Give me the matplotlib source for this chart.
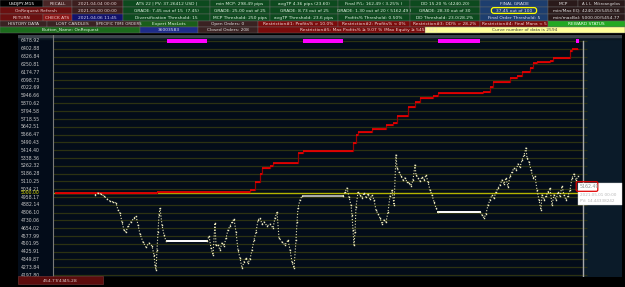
import matplotlib
matplotlib.use("Agg")
import matplotlib.pyplot as plt
from matplotlib.patches import Rectangle, FancyBboxPatch
import matplotlib.transforms as mtransforms

# ---- the data ----
# price scale shown on the left
price_ticks = [4197.80, 4273.84, 4349.87, 4425.91, 4501.95, 4577.99, 4654.02, 4730.06,
               4806.10, 4882.14, 4958.17, 5034.21, 5110.25, 5186.28, 5262.32, 5338.36,
               5414.40, 5490.43, 5566.47, 5642.51, 5718.55, 5794.58, 5870.62, 5946.66,
               6022.69, 6098.73, 6174.77, 6250.81, 6326.84, 6402.88, 6478.92]
start_balance = 5000.00

# equity points (bar index, value), split by the weekend gaps
eq_bars_a = [200, 215, 230, 245, 260, 275, 290, 305, 315, 325, 335, 345, 355, 365, 380, 395, 405,
             415, 425, 440, 455, 470, 485, 495, 500, 505, 510, 515, 520, 525, 535, 545, 555]
eq_vals_a = [4978, 4997, 4988, 4968, 4939, 4919, 4910, 4900, 4832, 4802, 4715, 4637, 4617, 4676,
             4715, 4754, 4773, 4686, 4598, 4520, 4471, 4510, 4481, 4393, 4296, 4247, 4442, 4617,
             4783, 4851, 4686, 4588, 4529]
eq_bars_b = [760, 770, 780, 790, 800, 805, 815, 825, 835, 845, 855, 865, 875, 885, 895, 905, 915,
             925, 935, 945, 955, 965, 975, 985, 995, 1005, 1015, 1025, 1035, 1045, 1060, 1075,
             1090, 1100, 1110, 1120, 1135, 1150, 1165, 1175, 1185, 1195, 1205, 1210, 1215, 1225, 1235]
eq_vals_b = [4529, 4578, 4461, 4393, 4705, 4491, 4491, 4442, 4510, 4481, 4559, 4637, 4676, 4715,
             4744, 4617, 4442, 4364, 4266, 4325, 4364, 4315, 4354, 4442, 4539, 4617, 4734, 4754,
             4695, 4715, 4676, 4695, 4656, 4754, 4812, 4559, 4520, 4491, 4539, 4442, 4325, 4266,
             4539, 4715, 4851, 4929, 4968]
eq_bars_c = [1440, 1450, 1460, 1470, 1480, 1485, 1490, 1495, 1500, 1505, 1515, 1525, 1535, 1545,
             1555, 1565, 1575, 1585, 1595, 1605, 1615, 1625, 1635, 1645, 1655, 1665, 1675, 1685,
             1695, 1705, 1710, 1720, 1730, 1740, 1750, 1760, 1770, 1780, 1790, 1800, 1805, 1815,
             1825, 1835, 1845, 1855, 1865, 1875, 1885, 1895, 1905, 1915]
eq_vals_c = [4968, 5007, 5046, 4958, 4880, 4783, 4637, 4491, 4617, 4861, 5007, 4978, 4949, 4997,
             4958, 4988, 4939, 4978, 4929, 4832, 4793, 4754, 4695, 4734, 4715, 4812, 4968, 5026,
             4880, 5368, 5241, 5202, 5163, 5124, 5144, 5105, 5095, 5065, 5124, 5270, 5173, 5144,
             5114, 5153, 5124, 5173, 5105, 5026, 4978, 4910, 4851, 4812]
eq_bars_d = [2125, 2135, 2145, 2155, 2165, 2175, 2185, 2195, 2205, 2215, 2225, 2235, 2245, 2255,
             2265, 2275, 2285, 2295, 2305, 2315, 2325, 2335, 2345, 2355, 2360, 2370, 2380, 2390,
             2400, 2410, 2420, 2430, 2435, 2445, 2455, 2465, 2475, 2485, 2495, 2505, 2515, 2525,
             2535, 2545, 2555, 2565, 2575, 2585, 2595, 2605, 2615]
eq_vals_d = [4812, 4783, 4754, 4793, 4880, 4929, 4978, 4949, 5007, 5046, 5075, 5124, 5085, 5144,
             5056, 5163, 5202, 5241, 5222, 5280, 5251, 5319, 5368, 5436, 5339, 5300, 5222, 5144,
             5163, 5026, 4929, 4832, 4978, 4929, 4968, 5007, 5046, 4880, 4978, 4929, 5007, 4968,
             5065, 4978, 4929, 4968, 5026, 5144, 5182, 5124, 5162.49]

# weekend gaps: start bar, end bar, flat equity level
gap_start = [560, 1240, 1915, 2605]
gap_end = [760, 1440, 2125, 2620]
gap_level = [4529, 4968, 4812, None]

# max-equity step curve
red_bars = [0, 510, 975, 1000, 1025, 1035, 1075, 1090, 1215, 1240, 1490, 1505, 1515, 1585, 1655,
            1690, 1710, 1765, 1800, 1825, 1890, 1915, 2140, 2175, 2190, 2275, 2310, 2335, 2375,
            2390, 2410, 2475, 2490, 2575, 2585, 2615]
red_vals = [4995, 5010, 5026, 5104, 5182, 5241, 5260, 5290, 5387, 5407, 5485, 5563, 5592, 5621,
            5660, 5680, 5748, 5836, 5884, 5923, 5943, 5972, 5982, 6031, 6079, 6118, 6138, 6177,
            6216, 6264, 6274, 6284, 6313, 6381, 6401, 6401]

last_value = 5162.49
last_time = "2021.05.01 00:00"
last_pv = "PV: 14.44338242"
bottom_text = "$454.77/$4345.28"

# header cells: row, x0, x1, text, background, text colour
dark = "#3a2222"
green = "#0d4a1e"
cells = [
    (0, 0, 43, "USDJPY,M15", "#000000", "#ffffff"),
    (0, 43, 72, "RECALL", "#4a2626", "#e6dada"),
    (0, 72, 123, "2021.04.04 00:00", "#3c1e1e", "#e0d0d0"),
    (0, 123, 210, "ATS 22 | PV: 37.26412 USD |", green, "#e0f0e0"),
    (0, 210, 270, "min MCP: 298.49 pips", green, "#e0f0e0"),
    (0, 270, 338, "avgTP 4.36 pips (23.60)", green, "#e0f0e0"),
    (0, 338, 410, "Final P/L: 162.49 ( 3.25% )", green, "#e0f0e0"),
    (0, 410, 480, "DD 15.20 % (4240.20)", green, "#e0f0e0"),
    (0, 480, 548, "FINAL GRADE", "#1d3e6e", "#e0e0f0"),
    (0, 548, 578, "MCP", "#2a1a1a", "#e0e0e0"),
    (0, 578, 625, "A L L  Mikroangelos", "#2a1a1a", "#e0e0e0"),
    (1, 0, 72, "OnRequest Refresh", "#6a1010", "#e8d0d0"),
    (1, 72, 123, "2021.05.00 00:00", "#3c1e1e", "#e0d0d0"),
    (1, 123, 210, "GRADE: 7.45 out of 15  (7.45)", green, "#e0f0e0"),
    (1, 210, 270, "GRADE: 25.00 out of 25", green, "#e0f0e0"),
    (1, 270, 338, "GRADE: 8.73 out of 25", green, "#e0f0e0"),
    (1, 338, 410, "GRADE: 1.30 out of 20 ( 5162.49 )", green, "#e0f0e0"),
    (1, 410, 480, "GRADE: 28.30 out of 30", green, "#e0f0e0"),
    (1, 480, 548, "37.45 out of 100", "#1d3e6e", "#e0e0f0"),
    (1, 548, 625, "min/Max EQ: 4240.20/5450.56", "#2a1a1a", "#e0e0e0"),
    (2, 0, 43, "RETURN", "#6a1010", "#e8d0d0"),
    (2, 43, 72, "CHECK ATS", "#8c1616", "#f0d0d0"),
    (2, 72, 123, "2021.04.06 11:45", "#12126a", "#d0d0f0"),
    (2, 123, 210, "Diversification Threshold: 15", green, "#e0f0e0"),
    (2, 210, 270, "MCP Threshold: 250 pips", green, "#e0f0e0"),
    (2, 270, 338, "avgTP Threshold: 23.6 pips", green, "#e0f0e0"),
    (2, 338, 410, "Profits% Threshold: 0.50%", green, "#e0f0e0"),
    (2, 410, 480, "DD Threshold: 23.0/28.2%", green, "#e0f0e0"),
    (2, 480, 548, "Final Order Threshold: 5", "#1d3e6e", "#e0e0f0"),
    (2, 548, 625, "min/maxBal: 5000.00/5454.77", "#2a1a1a", "#e0e0e0"),
    (3, 0, 47, "HISTORY DATA", dark, "#e0e0e0"),
    (3, 47, 97, "LOST CANDLES", dark, "#e0e0e0"),
    (3, 97, 140, "SPECIFIC TIME ORDERS", dark, "#e0e0e0"),
    (3, 140, 198, "Expert MaxLots", "#1a5e1a", "#e0f0e0"),
    (3, 198, 258, "Open Orders: 0", dark, "#e0e0e0"),
    (3, 258, 338, "Restriction#1: Profits% > 10.0%", "#7a0c0c", "#f0d8d8"),
    (3, 338, 410, "Restriction#2: Profits% < 0%", "#7a0c0c", "#f0d8d8"),
    (3, 410, 480, "Restriction#3: DD% > 28.2%", "#7a0c0c", "#f0d8d8"),
    (3, 480, 548, "Restriction#4: Final Mana < 5", "#7a0c0c", "#f0d8d8"),
    (3, 548, 625, "REWARD STATUS", "#22a822", "#f0fff0"),
    (4, 0, 140, "Button_Name: OnRequest", "#1c6a1c", "#e0f0e0"),
    (4, 140, 198, "36003583", "#1e2c8a", "#e0e0f0"),
    (4, 198, 258, "Closed Orders: 208", dark, "#e0e0e0"),
    (4, 258, 480, "Restriction#5: Max Profits% \u2265 9.07 % (Max Equity \u2265 5453.56 ]", "#7a0c0c", "#f0d8d8"),
    (4, 425, 625, "Curve number of data is 2594", "#ffff99", "#404040"),
]
row_top = [0, 7, 14, 20.5, 26.5]
row_h = [7, 7, 6.5, 6, 6]

W, H = 625, 287
fig = plt.figure(figsize=(W / 100, H / 100), dpi=100, facecolor="black")

# ---- chart panel ----
px0, px1, py0, py1 = 18, 622, 35, 277
ax = fig.add_axes([px0 / W, (H - py1) / H, (px1 - px0) / W, (py1 - py0) / H])
ax.set_facecolor("#030c19")
ax.set_xlim(-185, 2835)
ax.set_ylim(4178.4, 6537.4)
ax.set_xticks([])
ax.set_yticks([])
for s in ax.spines.values():
    s.set_visible(False)

# right hand side (future) area
ax.axvspan(2640, 2835, color="#0b1b29", zorder=0)
# top strip
ax.axhspan(6478.92 + 20, 6537.4, color="#0a1822", zorder=0)
ax.axhspan(6515, 6537.4, color="#3c444c", zorder=0)

# grid lines
ax.hlines(price_ticks, -10, 2660, color="#2c3212", lw=0.9, zorder=1)
ax.hlines(start_balance, -10, 2660, color="#b4b400", lw=1.0, zorder=2)
ax.axvline(-10, color="#7a7a7a", lw=0.8, zorder=2)
ax.axvline(2640, ymax=0.975, color="#a8a8a8", lw=1.0, zorder=2)

# price labels
for v in price_ticks:
    ax.text(-172, v, "%.2f" % v, color="#c8c8c8", fontsize=3.3, va="center", ha="left", zorder=3)
ax.text(-172, start_balance, "%.2f" % start_balance, color="#d8d800", fontsize=3.3,
        va="center", ha="left", zorder=3)

# weekend markers and flat equity during the gaps
trans = mtransforms.blended_transform_factory(ax.transData, ax.transAxes)
for g0, g1, lvl, c in zip(gap_start, gap_end, gap_level, ["#ffffff", "#b0b0b0", "#ffffff", None]):
    ax.add_patch(Rectangle((g0, 0.968), g1 - g0, 0.014, transform=trans,
                           color="#ff00ff", lw=0, zorder=4))
    if lvl is not None:
        ax.plot([g0, g1], [lvl, lvl], color=c, lw=1.4, zorder=4)

# max equity steps: dark red risers, bright red flats
ax.step(red_bars, red_vals, where="post", color="#9a0000", lw=0.9, zorder=5)
ax.hlines(red_vals[:-1], red_bars[:-1], red_bars[1:], color="#ee0000", lw=1.2, zorder=5)

# equity dots
for bx, vy in [(eq_bars_a, eq_vals_a), (eq_bars_b, eq_vals_b),
               (eq_bars_c, eq_vals_c), (eq_bars_d, eq_vals_d)]:
    ax.plot(bx, vy, color="#e8e4b0", lw=0.8, ls=(0, (1, 1.6)), zorder=6)
    ax.plot(bx, vy, ls="none", marker="s", ms=1.0, mew=0, color="#f0ecc0", zorder=6)

# ---- overlay for header, boxes ----
ov = fig.add_axes([0, 0, 1, 1])
ov.set_xlim(0, W)
ov.set_ylim(H, 0)
ov.axis("off")
ov.patch.set_alpha(0)

for r, x0, x1, txt, bg, fg in cells:
    ov.add_patch(Rectangle((x0, row_top[r]), x1 - x0, row_h[r], facecolor=bg,
                           edgecolor="#6a6a6a", lw=0.3))
    fs = 2.8 if x1 - x0 < 50 and len(txt) > 12 else 3.2
    ov.text((x0 + x1) / 2, row_top[r] + row_h[r] / 2 + 0.3, txt, color=fg, fontsize=fs,
            ha="center", va="center", clip_on=True)

# yellow highlight around final grade
ov.add_patch(FancyBboxPatch((492, 8.2), 44, 4.6, boxstyle="round,pad=0.6,rounding_size=2.5",
                            facecolor="none", edgecolor="#ffff00", lw=0.9))

# last value label
ov.add_patch(Rectangle((578, 183), 44, 22, facecolor="#ffffff", edgecolor="#d0d0d0", lw=0.3))
ov.add_patch(FancyBboxPatch((576.5, 182), 21, 9, boxstyle="round,pad=0.3,rounding_size=1.5",
                            facecolor="none", edgecolor="#e00000", lw=0.9))
ov.text(580, 186.8, "%.2f" % last_value, color="#909090", fontsize=3.4, va="center", ha="left")
ov.text(580, 194.5, last_time, color="#b8b8b8", fontsize=3.0, va="center", ha="left")
ov.text(580, 201, last_pv, color="#b8b8b8", fontsize=3.0, va="center", ha="left")

# bottom-left balance box
ov.add_patch(Rectangle((18, 276), 85, 8, facecolor="#5c0c0c", edgecolor="#7a3a3a", lw=0.4))
ov.text(60, 280.3, bottom_text, color="#e0d0d0", fontsize=3.2, ha="center", va="center")

fig.savefig("out.png", dpi=100, facecolor="black")
